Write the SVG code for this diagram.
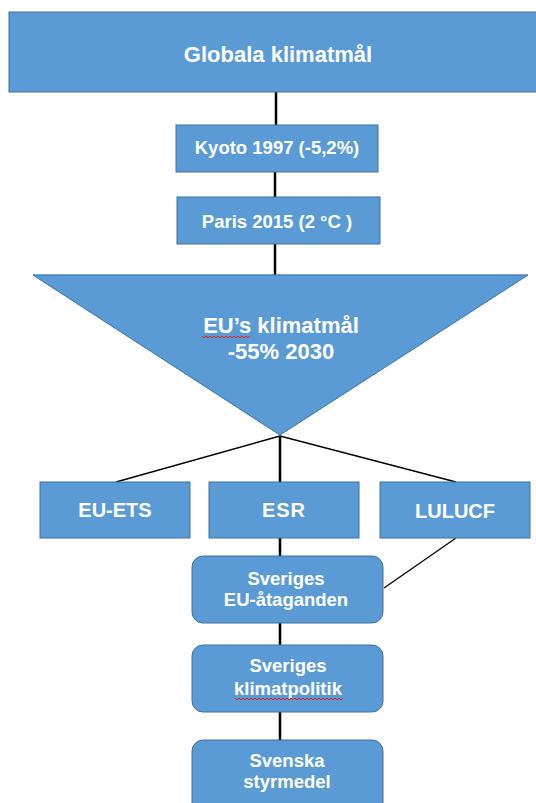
<svg xmlns="http://www.w3.org/2000/svg" width="536" height="803" viewBox="0 0 536 803">
<style>
.n{fill:#5B9BD5;stroke:#41719C;stroke-width:1}
.t{fill:#fff;font-family:"Liberation Sans",Arial,sans-serif;font-weight:bold;text-anchor:middle}
.c{stroke:#000;fill:none}
.sq{stroke:#e02020;fill:none;stroke-width:1}
</style>
<rect width="536" height="803" fill="#fff"/>
<g id="connectors">
<line class="c" x1="276" y1="92" x2="276" y2="125" stroke-width="2.5"/>
<line class="c" x1="275" y1="172" x2="275" y2="197" stroke-width="2.5"/>
<line class="c" x1="275" y1="244" x2="275" y2="275" stroke-width="2.5"/>
<line class="c" x1="280" y1="436" x2="116" y2="482" stroke-width="1.3"/>
<line class="c" x1="280" y1="436" x2="280" y2="482" stroke-width="2.5"/>
<line class="c" x1="280" y1="436" x2="456" y2="482" stroke-width="1.3"/>
<line class="c" x1="280" y1="538" x2="280" y2="556" stroke-width="2.5"/>
<line class="c" x1="456" y1="538" x2="384" y2="588" stroke-width="1.3"/>
<line class="c" x1="280" y1="623" x2="280" y2="645" stroke-width="2.5"/>
<line class="c" x1="280" y1="712" x2="280" y2="740" stroke-width="2.5"/>
</g>
<g id="globala">
<rect class="n" x="9" y="12" width="540" height="80"/>
<text class="t" x="278" y="62" font-size="22">Globala klimatmål</text>
</g>
<g id="kyoto">
<rect class="n" x="176" y="125" width="202" height="47"/>
<text class="t" x="277" y="154" font-size="18.5">Kyoto 1997 (-5,2%)</text>
</g>
<g id="paris">
<rect class="n" x="177" y="197" width="203" height="47"/>
<text class="t" x="277" y="228" font-size="18.5">Paris 2015 (2 °C )</text>
</g>
<g id="eu">
<polygon class="n" points="33,275 528,275 280,435" stroke="none"/>
<polygon points="33,275 528,275 280,435" fill="none" stroke="#4a86c0" stroke-width="0.8"/>
<text class="t" x="281" y="333" font-size="22">EU’s klimatmål</text>
<text class="t" x="281" y="359" font-size="22">-55% 2030</text>
<path class="sq" d="M202,336 l2,2 l2,-2 l2,2 l2,-2 l2,2 l2,-2 l2,2 l2,-2 l2,2 l2,-2 l2,2 l2,-2 l2,2 l2,-2 l2,2 l2,-2 l2,2 l2,-2 l2,2 l2,-2 l2,2 l2,-2 l2,2 l2,-2"/>
</g>
<g id="euets">
<rect class="n" x="40" y="482" width="150" height="56"/>
<text class="t" x="115" y="517" font-size="20">EU-ETS</text>
</g>
<g id="esr">
<rect class="n" x="209" y="482" width="150" height="56"/>
<text class="t" x="284" y="517" font-size="20" letter-spacing="1">ESR</text>
</g>
<g id="lulucf">
<rect class="n" x="380" y="482" width="150" height="56"/>
<text class="t" x="455" y="518" font-size="20">LULUCF</text>
</g>
<g id="sveriges-eu">
<rect class="n" x="192" y="556" width="191" height="67" rx="11"/>
<text class="t" x="286" y="585" font-size="18.5">Sveriges</text>
<text class="t" x="286" y="606" font-size="18.5">EU-åtaganden</text>
</g>
<g id="klimatpolitik">
<rect class="n" x="192" y="645" width="191" height="67" rx="11"/>
<text class="t" x="288" y="672" font-size="18.5">Sveriges</text>
<text class="t" x="288" y="695" font-size="18.5">klimatpolitik</text>
<path class="sq" d="M235,698 l2,2 l2,-2 l2,2 l2,-2 l2,2 l2,-2 l2,2 l2,-2 l2,2 l2,-2 l2,2 l2,-2 l2,2 l2,-2 l2,2 l2,-2 l2,2 l2,-2 l2,2 l2,-2 l2,2 l2,-2 l2,2 l2,-2 l2,2 l2,-2 l2,2 l2,-2 l2,2 l2,-2 l2,2 l2,-2 l2,2 l2,-2 l2,2 l2,-2 l2,2 l2,-2 l2,2 l2,-2 l2,2 l2,-2 l2,2 l2,-2 l2,2 l2,-2 l2,2 l2,-2 l2,2 l2,-2 l2,2 l2,-2 l2,2 l2,-2"/>
</g>
<g id="svenska">
<rect class="n" x="192" y="740" width="191" height="75" rx="11"/>
<text class="t" x="287" y="767" font-size="18.5">Svenska</text>
<text class="t" x="287" y="788" font-size="18.5">styrmedel</text>
</g>
</svg>
